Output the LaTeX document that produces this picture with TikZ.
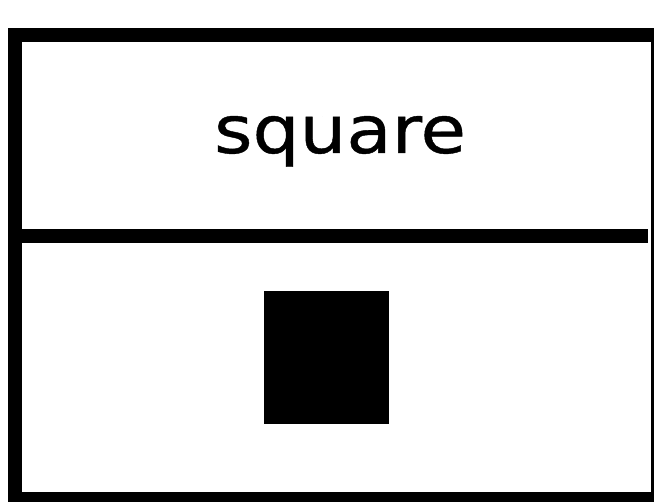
\documentclass[tikz,border=0pt]{standalone}
\usepackage{fontspec}
\setmainfont{DejaVu Sans}
\newfontfamily\titlefont[FakeBold=0.6]{DejaVu Sans}
\tikzset{
  frame/.style={draw=black, line width=14pt},
  label/.style={inner sep=0pt, anchor=base, font=\titlefont\fontsize{66}{66}\selectfont},
  blocksq/.style={fill=black, draw=none, minimum width=125pt, minimum height=133pt, inner sep=0pt}
}
\begin{document}
\begin{tikzpicture}[x=1pt,y=-1pt]
\useasboundingbox (0,0) rectangle (654,502);
\clip (0,0) rectangle (654,502);
\fill[white] (0,0) rectangle (654,502);
\draw[frame] (15,35) rectangle (658,499);
\coordinate (dl) at (22,236);
\coordinate (dr) at (648,236);
\draw[frame] (dl) -- (dr);
\node[label] (title) at (340,153) {\scalebox{1.12}[1]{square}};
\node[blocksq] (sq) at (326.5,357.5) {};
\end{tikzpicture}
\end{document}
